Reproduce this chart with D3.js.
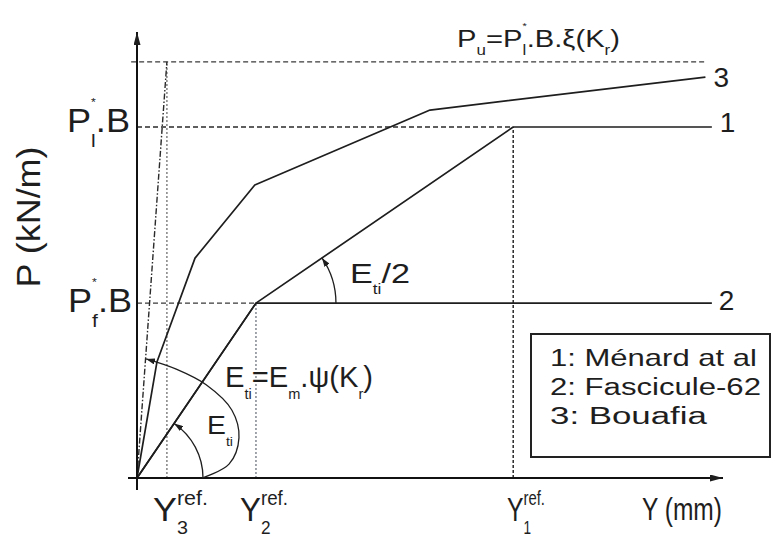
<!DOCTYPE html>
<html><head><meta charset="utf-8">
<script src="https://cdn.jsdelivr.net/npm/d3@7"></script>
<style>
html,body{margin:0;padding:0;background:#fff;}
svg{display:block;}
text{font-family:"Liberation Sans",Arial,Helvetica,sans-serif;fill:#1e1e1e;}
</style></head><body>
<svg id="chart" width="773" height="543"></svg>
<script>
// Schematic P–Y curves: displacement Y (mm) and soil reaction P (kN/m), arbitrary units 0..100
const yRefNames = ["3", "2", "1"];
const yRefValues = [5.1, 20.3, 64.2];
const loadNames = ["Pf", "Pl", "Pu"];
const loadValues = [39.2, 78.7, 93.3];

const menardY = [0, 20.3, 64.2, 98.1];
const menardP = [0, 39.2, 78.7, 78.7];
const fasciculeY = [0, 20.3, 98.1];
const fasciculeP = [0, 39.2, 39.2];
const bouafiaY = [0, 3.4, 9.9, 20.1, 50.0, 97.0];
const bouafiaP = [0, 26.0, 49.3, 65.7, 82.5, 89.9];
const tangentY = [0, 5.1];
const tangentP = [0, 93.3];

const curveTags = ["1", "2", "3"];
const legendLabels = ["1: Ménard at al", "2: Fascicule-62", "3: Bouafia"];

// guide arc of the Eti = Em.psi(Kr) annotation
const psiArcY = [11.1, 15.7, 17.4, 16.2, 11.8, 6.7, 1.55];
const psiArcP = [0, 3.1, 9.0, 15.2, 20.9, 24.4, 26.7];

const svg = d3.select("#chart");
const x = d3.scaleLinear().domain([0, 100]).range([137, 723]);
const y = d3.scaleLinear().domain([0, 100]).range([478, 32]);
const ink = "#1e1e1e";

const zip = (a, b) => a.map((v, i) => [v, b[i]]);
const line = d3.line().x(d => x(d[0])).y(d => y(d[1]));

// arrow markers
const defs = svg.append("defs");
function marker(id, len, wid) {
  defs.append("marker").attr("id", id)
    .attr("viewBox", `0 0 ${len} ${wid}`).attr("refX", len).attr("refY", wid / 2)
    .attr("markerWidth", len).attr("markerHeight", wid)
    .attr("markerUnits", "userSpaceOnUse").attr("orient", "auto")
    .append("path").attr("d", `M0,0L${len},${wid / 2}L0,${wid}Z`).attr("fill", ink);
}
marker("axisArrow", 13, 7);
marker("arcArrow", 9, 6);

// rich text builder: sequential pieces with sub/superscripts, stretched to a given width
function rich(parent, opt) {
  const g = parent.append("g")
    .attr("transform", `translate(${opt.x},${opt.y})` + (opt.rotate ? ` rotate(${opt.rotate})` : ""));
  const inner = g.append("g");
  let cursor = 0, lastW = 0;
  opt.pieces.forEach(p => {
    const k = p.k || "n";
    const fs = k === "n" ? opt.size : opt.size * (p.scale || opt.smallScale || 0.58);
    const dy = k === "sub" ? opt.size * (p.shift || opt.subShift || 0.38)
             : k === "sup" ? -opt.size * (p.shift || opt.supShift || 0.5) : 0;
    if (p.stack) cursor -= lastW;
    const t = inner.append("text").attr("x", cursor).attr("y", dy)
      .attr("font-size", fs).text(p.t);
    const w = t.node().getComputedTextLength();
    cursor += p.stack ? Math.max(w, lastW) : w;
    lastW = w;
  });
  const sx = opt.width ? opt.width / cursor : 1;
  const tx = opt.anchor === "middle" ? -cursor * sx / 2 : opt.anchor === "end" ? -cursor * sx : 0;
  inner.attr("transform", `translate(${tx},0) scale(${sx},1)`);
  return g;
}

// reference guide lines
const guides = svg.append("g").attr("fill", "none");
// ultimate load level
guides.append("path").attr("d", line([[-1.0, loadValues[2]], [bouafiaY[5], loadValues[2]]]))
  .attr("stroke", "#3a3a3a").attr("stroke-width", 1.4).attr("stroke-dasharray", "5,3");
// limit load level up to Y1
guides.append("path").attr("d", line([[0, loadValues[1]], [yRefValues[2], loadValues[1]]]))
  .attr("stroke", "#2a2a2a").attr("stroke-width", 1.5).attr("stroke-dasharray", "5,3");
// creep load level up to Y2
guides.append("path").attr("d", line([[0, loadValues[0]], [yRefValues[1], loadValues[0]]]))
  .attr("stroke", "#3a3a3a").attr("stroke-width", 1.4).attr("stroke-dasharray", "5,3");
// vertical references
guides.append("path").attr("d", line([[yRefValues[2], 0], [yRefValues[2], loadValues[1]]]))
  .attr("stroke", "#2a2a2a").attr("stroke-width", 1.5).attr("stroke-dasharray", "3,2");
guides.append("path").attr("d", line([[yRefValues[1], 0], [yRefValues[1], loadValues[0]]]))
  .attr("stroke", "#8a8f96").attr("stroke-width", 1.6).attr("stroke-dasharray", "2,2");
guides.append("path").attr("d", line([[yRefValues[0], 0], [yRefValues[0], loadValues[2]]]))
  .attr("stroke", "#8a8a8a").attr("stroke-width", 1.6).attr("stroke-dasharray", "2,2");
// initial tangent (dash-dot)
guides.append("path").attr("d", line(zip(tangentY, tangentP)))
  .attr("stroke", "#2a2a2a").attr("stroke-width", 1.4).attr("stroke-dasharray", "6,2,1.5,2");

// curves
const curves = svg.append("g").attr("fill", "none").attr("stroke", ink)
  .attr("stroke-width", 1.7).attr("stroke-linejoin", "round");
curves.append("path").attr("d", line(zip(menardY, menardP)));
curves.append("path").attr("d", line(zip(fasciculeY, fasciculeP)));
curves.append("path").attr("d", line(zip(bouafiaY, bouafiaP)));

// axes
const axes = svg.append("g").attr("stroke", "#111").attr("stroke-width", 2).attr("fill", "none");
axes.append("line").attr("x1", x(0)).attr("y1", y(0) + 12).attr("x2", x(0)).attr("y2", y(100))
  .attr("marker-end", "url(#axisArrow)");
axes.append("line").attr("x1", x(0) - 9).attr("y1", y(0)).attr("x2", x(100)).attr("y2", y(0))
  .attr("marker-end", "url(#axisArrow)");

// angle annotations
const ann = svg.append("g").attr("fill", "none").attr("stroke", ink).attr("stroke-width", 1.3);
{
  const ox = x(0), oy = y(0);
  const a = Math.atan2(y(fasciculeP[1]) - oy, x(fasciculeY[1]) - ox);
  const p = d3.path(); const r = 66;
  p.moveTo(ox + r, oy); p.arc(ox, oy, r, 0, a, true);
  ann.append("path").attr("d", p.toString()).attr("marker-end", "url(#arcArrow)");
}
{
  const cx = x(menardY[1]), cy = y(menardP[1]);
  const a = Math.atan2(y(menardP[2]) - cy, x(menardY[2]) - cx);
  const p = d3.path(); const r = 80;
  p.moveTo(cx + r, cy); p.arc(cx, cy, r, 0, a, true);
  ann.append("path").attr("d", p.toString()).attr("marker-end", "url(#arcArrow)");
}
ann.append("path")
  .attr("d", d3.line().x(d => x(d[0])).y(d => y(d[1])).curve(d3.curveCatmullRom)(zip(psiArcY, psiArcP)))
  .attr("marker-end", "url(#arcArrow)");

// curve tags at the right ends
const txt = svg.append("g");
const tagPos = [[x(menardY[3]) + 8, y(menardP[3]) + 5], [x(fasciculeY[2]) + 7, y(fasciculeP[2]) + 7], [x(bouafiaY[5]) + 8, y(bouafiaP[5]) + 10]];
curveTags.forEach((t, i) => {
  rich(txt, { x: tagPos[i][0], y: tagPos[i][1], size: 28, pieces: [{ t }] });
});

// load level labels
rich(txt, { x: 67, y: 132, size: 33, width: 63,
  pieces: [{ t: "P" }, { t: "l", k: "sub", shift: 0.45 }, { t: "*", k: "sup", stack: true, scale: 0.34, shift: 0.8 }, { t: ".B" }] });
rich(txt, { x: 68, y: 312, size: 33, width: 64,
  pieces: [{ t: "P" }, { t: "f", k: "sub", shift: 0.45 }, { t: "*", k: "sup", stack: true, scale: 0.34, shift: 0.8 }, { t: ".B" }] });
rich(txt, { x: 457, y: 47, size: 24, width: 163,
  pieces: [{ t: "P" }, { t: "u", k: "sub", shift: 0.33 }, { t: "=P" }, { t: "l", k: "sub", shift: 0.33 },
           { t: "*", k: "sup", stack: true, scale: 0.38, shift: 0.74 }, { t: ".B.ξ(K" }, { t: "r", k: "sub", shift: 0.33 }, { t: ")" }] });

// axis titles
rich(txt, { x: 40, y: 217, rotate: -90, anchor: "middle", size: 34, width: 141, pieces: [{ t: "P (kN/m)" }] });
rich(txt, { x: 642, y: 520, size: 32, width: 80, pieces: [{ t: "Y (mm)" }] });

// reference displacement labels
const refLabelLeft = [153, 240, 507];
const refLabelWidth = [55, 48, 38];
yRefNames.forEach((n, i) => {
  rich(txt, { x: refLabelLeft[i], y: 521, size: 33, width: refLabelWidth[i],
    pieces: [{ t: "Y" }, { t: "ref.", k: "sup", scale: 0.6, shift: 0.5 }, { t: n, k: "sub", stack: true, scale: 0.55, shift: 0.4 }] });
});

// modulus annotations
rich(txt, { x: 350, y: 283, size: 28, width: 60,
  pieces: [{ t: "E" }, { t: "ti", k: "sub", scale: 0.5, shift: 0.4 }, { t: " /2" }] });
rich(txt, { x: 225, y: 387, size: 29, width: 148,
  pieces: [{ t: "E" }, { t: "ti", k: "sub", scale: 0.5, shift: 0.4 }, { t: "=E" }, { t: "m", k: "sub", scale: 0.5, shift: 0.4 },
           { t: ".ψ(K" }, { t: "r", k: "sub", scale: 0.5, shift: 0.4 }, { t: ")" }] });
rich(txt, { x: 207, y: 434, size: 26, width: 26,
  pieces: [{ t: "E" }, { t: "ti", k: "sub", scale: 0.5, shift: 0.45 }] });

// legend
const legend = svg.append("g");
legend.append("rect").attr("x", 531).attr("y", 334).attr("width", 239).attr("height", 123)
  .attr("fill", "#fff").attr("stroke", "#222").attr("stroke-width", 2);
const legendWidth = [207, 211, 157];
legendLabels.forEach((l, i) => {
  rich(legend, { x: 550, y: 366 + i * 29, size: 23, width: legendWidth[i], pieces: [{ t: l }] });
});
</script>
</body></html>
